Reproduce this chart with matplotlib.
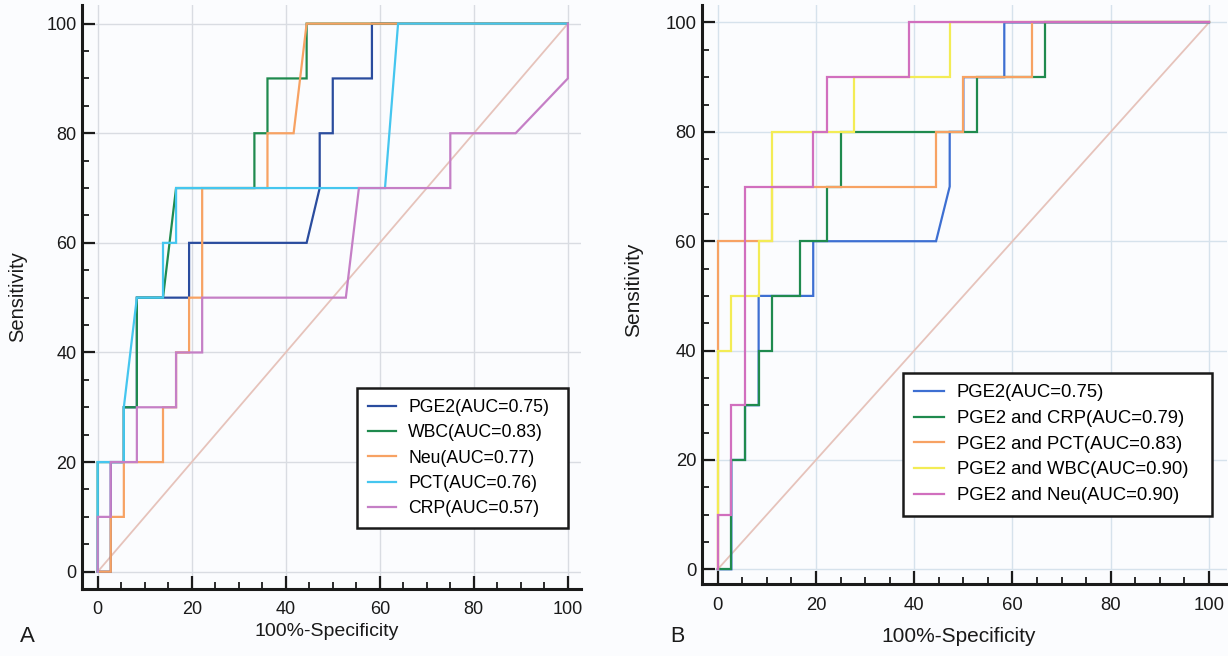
import matplotlib
matplotlib.use("Agg")
import matplotlib.pyplot as plt
from matplotlib.ticker import MultipleLocator

plt.rcParams['font.family'] = ['Liberation Sans', 'DejaVu Sans']

# ---------------- data (100%-Specificity, Sensitivity) ----------------
pge2_x = [0, 2.78, 2.78, 5.56, 5.56, 8.33, 8.33, 19.44, 19.44, 44.44, 47.22, 47.22, 50.0, 50.0, 58.33, 58.33, 100]
pge2_y = [0, 0, 20, 20, 30, 30, 50, 50, 60, 60, 70, 80, 80, 90, 90, 100, 100]

wbc_x = [0, 0, 5.56, 5.56, 8.33, 8.33, 13.89, 16.67, 33.33, 33.33, 36.11, 36.11, 44.44, 44.44, 100]
wbc_y = [0, 20, 20, 30, 30, 50, 50, 70, 70, 80, 80, 90, 90, 100, 100]

neu_x = [0, 2.78, 2.78, 5.56, 5.56, 13.89, 13.89, 16.67, 16.67, 19.44, 19.44, 22.22, 22.22, 36.11, 36.11, 41.67, 44.44, 100]
neu_y = [0, 0, 10, 10, 20, 20, 30, 30, 40, 40, 50, 50, 70, 70, 80, 80, 100, 100]

pct_x = [0, 0, 5.56, 5.56, 8.33, 13.89, 13.89, 16.67, 16.67, 61.11, 63.89, 100]
pct_y = [0, 20, 20, 30, 50, 50, 60, 60, 70, 70, 100, 100]

crp_x = [0, 0, 2.78, 2.78, 8.33, 8.33, 16.67, 16.67, 22.22, 22.22, 52.78, 55.56, 75.0, 75.0, 88.89, 100, 100]
crp_y = [0, 10, 10, 20, 20, 30, 30, 40, 40, 50, 50, 70, 70, 80, 80, 90, 100]

pge2_crp_x = [0, 2.78, 2.78, 5.56, 5.56, 8.33, 8.33, 11.11, 11.11, 16.67, 16.67, 22.22, 22.22, 25.0, 25.0, 52.78, 52.78, 66.67, 66.67, 100]
pge2_crp_y = [0, 0, 20, 20, 30, 30, 40, 40, 50, 50, 60, 60, 70, 70, 80, 80, 90, 90, 100, 100]

pge2_pct_x = [0, 0, 11.11, 11.11, 44.44, 44.44, 50.0, 50.0, 63.89, 63.89, 100]
pge2_pct_y = [0, 60, 60, 70, 70, 80, 80, 90, 90, 100, 100]

pge2_wbc_x = [0, 0, 2.78, 2.78, 8.33, 8.33, 11.11, 11.11, 27.78, 27.78, 47.22, 47.22, 100]
pge2_wbc_y = [0, 40, 40, 50, 50, 60, 60, 80, 80, 90, 90, 100, 100]

pge2_neu_x = [0, 0, 2.78, 2.78, 5.56, 5.56, 19.44, 19.44, 22.22, 22.22, 38.89, 38.89, 100]
pge2_neu_y = [0, 10, 10, 30, 30, 70, 70, 80, 80, 90, 90, 100, 100]

labels_a = ["PGE2(AUC=0.75)", "WBC(AUC=0.83)", "Neu(AUC=0.77)", "PCT(AUC=0.76)", "CRP(AUC=0.57)"]
labels_b = ["PGE2(AUC=0.75)", "PGE2 and CRP(AUC=0.79)", "PGE2 and PCT(AUC=0.83)",
            "PGE2 and WBC(AUC=0.90)", "PGE2 and Neu(AUC=0.90)"]
ticks = [0, 20, 40, 60, 80, 100]
ref_line = [0, 100]

colors_a = ['#2a4c9e', '#1f8a4e', '#f7a263', '#45c6ef', '#c57fc6']
colors_b = ['#3d6fd2', '#1f8a4e', '#f7a263', '#f3ec55', '#d16fbe']

W, H = 1228, 656
bg = '#fbfcfe'
ink = '#1a1a1a'
fig = plt.figure(figsize=(W / 100, H / 100), dpi=100, facecolor=bg)


def px_axes(l, r, t, b):
    return fig.add_axes([l / W, 1 - b / H, (r - l) / W, (b - t) / H])


def style(ax, xlim, ylim, gridcol, fs):
    ax.set_facecolor(bg)
    ax.set_xlim(*xlim)
    ax.set_ylim(*ylim)
    ax.set_xticks(ticks)
    ax.set_yticks(ticks)
    ax.xaxis.set_minor_locator(MultipleLocator(5))
    ax.yaxis.set_minor_locator(MultipleLocator(5))
    for s in ['top', 'right']:
        ax.spines[s].set_visible(False)
    for s in ['left', 'bottom']:
        ax.spines[s].set_linewidth(2.2)
        ax.spines[s].set_color(ink)
    ax.tick_params(which='major', direction='in', length=9.5, width=1.6, color=ink,
                   labelsize=fs, labelcolor=ink)
    ax.tick_params(axis='x', which='major', pad=9)
    ax.tick_params(axis='y', which='major', pad=4)
    ax.tick_params(which='minor', direction='in', length=5, width=1.3, color=ink)
    ax.grid(True, which='major', color=gridcol, linewidth=1.0)
    ax.set_axisbelow(True)


def legend(ax, box, fs):
    l, r, t, b = box
    leg = ax.legend(loc='upper left', bbox_to_anchor=(l / W, 1 - b / H, (r - l) / W, (b - t) / H),
                    bbox_transform=fig.transFigure, mode='expand', fontsize=fs, frameon=True,
                    fancybox=False, edgecolor=ink, facecolor='white', framealpha=1,
                    borderaxespad=0, handlelength=1.6, handletextpad=0.7,
                    labelspacing=0.47, borderpad=0.62)
    leg.get_frame().set_linewidth(1.8)
    for ln in leg.get_lines():
        ln.set_linewidth(1.6)
    return leg


# ---------------- Panel A ----------------
axA = px_axes(82, 581, 5, 589)
style(axA, (-3.34, 102.8), (-3.16, 103.4), '#d9dce2', 13)
axA.plot(ref_line, ref_line, color='#e6c3bb', linewidth=1.3, zorder=2)
series_a = [(pge2_x, pge2_y), (wbc_x, wbc_y), (neu_x, neu_y), (pct_x, pct_y), (crp_x, crp_y)]
for (xs, ys), c, lab in zip(series_a, colors_a, labels_a):
    axA.plot(xs, ys, color=c, linewidth=1.6, label=lab, zorder=3, solid_joinstyle='miter')
axA.set_xlabel("100%-Specificity", fontsize=14, va='center', color=ink)
axA.xaxis.set_label_coords(0.49, (589 - 632) / 584)
axA.set_ylabel("Sensitivity", fontsize=14.5, va='center', color=ink)
axA.yaxis.set_label_coords((18 - 82) / 499, 0.5)
legend(axA, (356.7, 567.7, 388, 529), 12.7)

# ---------------- Panel B ----------------
axB = px_axes(701.7, 1226.7, 5, 584)
style(axB, (-3.26, 103.6), (-2.69, 103.2), '#d6e2ec', 13.3)
axB.plot(ref_line, ref_line, color='#e6c3bb', linewidth=1.3, zorder=2)
series_b = [(pge2_x, pge2_y), (pge2_crp_x, pge2_crp_y), (pge2_pct_x, pge2_pct_y),
            (pge2_wbc_x, pge2_wbc_y), (pge2_neu_x, pge2_neu_y)]
for (xs, ys), c, lab in zip(series_b, colors_b, labels_b):
    axB.plot(xs, ys, color=c, linewidth=1.6, label=lab, zorder=3, solid_joinstyle='miter')
axB.set_xlabel("100%-Specificity", fontsize=15, va='center', color=ink)
axB.xaxis.set_label_coords(0.49, (584 - 636) / 579)
axB.set_ylabel("Sensitivity", fontsize=15, va='center', color=ink)
axB.yaxis.set_label_coords((634 - 701.7) / 525, 0.508)
legend(axB, (903, 1212, 373, 512), 13.3)

fig.text(27 / W, 1 - 637 / H, "A", fontsize=16, ha='center', va='center', color=ink)
fig.text(677 / W, 1 - 637 / H, "B", fontsize=15.5, ha='center', va='center', color=ink)

fig.savefig("out.png", dpi=100, facecolor=bg)
